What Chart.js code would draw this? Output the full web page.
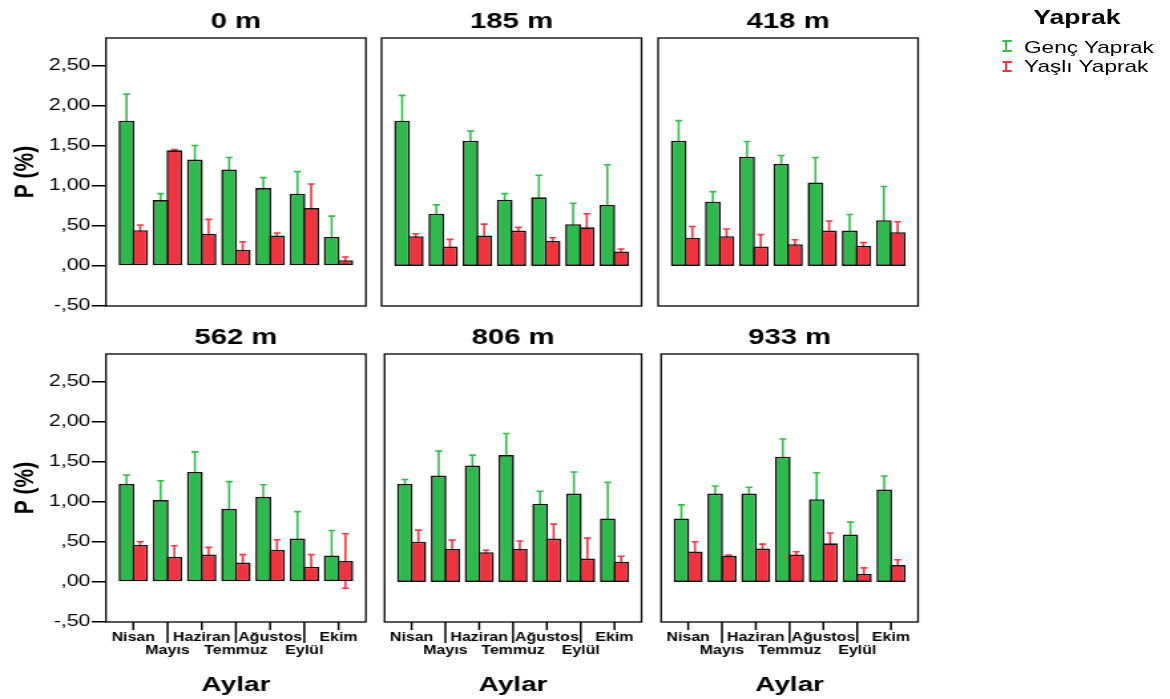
<!DOCTYPE html>
<html>
<head>
<meta charset="utf-8">
<script src="https://cdn.jsdelivr.net/npm/chart.js@4.4.1/dist/chart.umd.min.js"></script>
<style>
  body { margin: 0; background: #fff; }
  /* the reference is stretched horizontally, so the whole figure is laid out narrow and scaled */
  #wrap { position: absolute; left: 0; top: 0; width: 880px; height: 699px;
          transform: scaleX(1.329545); transform-origin: 0 0;
          font-family: 'Liberation Sans', Arial, sans-serif; color: #000; }
  #wrap canvas { position: absolute; }
  .lg-title { position: absolute; left: 760px; width: 100px; top: 4.7px; line-height: 24px;
              text-align: center; font-weight: bold; font-size: 20px; }
  .lg-text { position: absolute; left: 770.2px; line-height: 20px; font-size: 17px; white-space: nowrap; }
  .lg-icon { position: absolute; left: 753.5px; width: 7.5px; height: 11.7px; box-sizing: border-box;
             border-top: 2px solid; border-bottom: 2px solid; }
</style>
</head>
<body>
<div id="wrap">
  <div class="lg-title">Yaprak</div>
  <div class="lg-icon" style="top:40.2px;border-color:#35bd4c;background:linear-gradient(#35bd4c,#35bd4c) center/1.6px 100% no-repeat;"></div>
  <div class="lg-text" style="top:37.5px;">Genç Yaprak</div>
  <div class="lg-icon" style="top:60.8px;border-color:#ef3843;background:linear-gradient(#ef3843,#ef3843) center/1.6px 100% no-repeat;"></div>
  <div class="lg-text" style="top:57px;">Yaşlı Yaprak</div>
</div>
<script>
// --- Data ---
const months = ['Nisan', 'Mayıs', 'Haziran', 'Temmuz', 'Ağustos', 'Eylül', 'Ekim'];
const altitudes = ['0 m', '185 m', '418 m', '562 m', '806 m', '933 m'];

// Genç Yaprak means, one row per altitude
const gencMean = [
  [1.81, 0.82, 1.325, 1.20, 0.97, 0.90, 0.36],
  [1.81, 0.65, 1.56, 0.825, 0.855, 0.52, 0.76],
  [1.56, 0.80, 1.36, 1.27, 1.04, 0.44, 0.57],
  [1.22, 1.02, 1.37, 0.91, 1.06, 0.54, 0.33],
  [1.22, 1.325, 1.45, 1.58, 0.975, 1.10, 0.79],
  [0.79, 1.10, 1.10, 1.56, 1.03, 0.59, 1.15]
];
const gencErr = [
  [0.33, 0.08, 0.175, 0.15, 0.13, 0.275, 0.26],
  [0.315, 0.11, 0.12, 0.075, 0.275, 0.26, 0.50],
  [0.25, 0.125, 0.19, 0.105, 0.31, 0.20, 0.42],
  [0.11, 0.24, 0.25, 0.34, 0.15, 0.335, 0.31],
  [0.055, 0.305, 0.13, 0.27, 0.155, 0.27, 0.45],
  [0.17, 0.095, 0.08, 0.22, 0.33, 0.155, 0.17]
];
// Yaşlı Yaprak means
const yasliMean = [
  [0.445, 1.44, 0.40, 0.20, 0.38, 0.72, 0.07],
  [0.37, 0.24, 0.38, 0.44, 0.31, 0.48, 0.18],
  [0.35, 0.37, 0.24, 0.27, 0.44, 0.25, 0.42],
  [0.46, 0.31, 0.34, 0.24, 0.40, 0.19, 0.26],
  [0.50, 0.41, 0.37, 0.41, 0.54, 0.29, 0.25],
  [0.38, 0.325, 0.415, 0.34, 0.48, 0.10, 0.21]
];
const yasliErr = [
  [0.065, 0.01, 0.18, 0.10, 0.03, 0.30, 0.04],
  [0.03, 0.09, 0.14, 0.04, 0.04, 0.17, 0.03],
  [0.14, 0.09, 0.15, 0.055, 0.12, 0.04, 0.13],
  [0.04, 0.14, 0.09, 0.10, 0.125, 0.15, 0.34],
  [0.145, 0.11, 0.025, 0.10, 0.18, 0.255, 0.07],
  [0.12, 0.01, 0.055, 0.035, 0.13, 0.075, 0.065]
];

const yTickValues = [-0.5, 0, 0.5, 1, 1.5, 2, 2.5];
const yTickLabels = ['-,50', ',00', ',50', '1,00', '1,50', '2,00', '2,50'];

// --- Layout (logical px, before the horizontal stretch) ---
const boxLefts = [79.7, 287.1, 494.7];
const boxW = 195.5;
const yAxisW = 79.7;

const GREEN = '#2fb84b', RED = '#ef333f';
const GREEN_ERR = '#35bd4c', RED_ERR = '#ef3843';

Chart.defaults.font.family = "'Liberation Sans', Arial, sans-serif";
Chart.defaults.color = '#000';

// error bars drawn behind the bars, so only the part above the bar shows
const errorBarPlugin = {
  id: 'errorBars',
  beforeDatasetsDraw(chart) {
    const ctx = chart.ctx;
    const yScale = chart.scales.y;
    chart.data.datasets.forEach((ds, di) => {
      const meta = chart.getDatasetMeta(di);
      ctx.save();
      ctx.strokeStyle = ds.errColor;
      ctx.lineWidth = 1.6;
      meta.data.forEach((bar, i) => {
        const v = ds.data[i].y, e = ds.errors[i];
        const top = yScale.getPixelForValue(v + e);
        const bot = yScale.getPixelForValue(v - e);
        ctx.beginPath();
        ctx.moveTo(bar.x, top); ctx.lineTo(bar.x, bot);
        ctx.moveTo(bar.x - 2.6, top); ctx.lineTo(bar.x + 2.6, top);
        ctx.moveTo(bar.x - 2.6, bot); ctx.lineTo(bar.x + 2.6, bot);
        ctx.stroke();
      });
      ctx.restore();
    });
  }
};

// frame round the plot and the alternating month tick marks
const framePlugin = {
  id: 'frame',
  afterDraw(chart) {
    const {ctx, chartArea} = chart;
    ctx.save();
    ctx.strokeStyle = '#000';
    ctx.lineWidth = 1.3;
    ctx.strokeRect(chartArea.left, chartArea.top, chartArea.right - chartArea.left, chartArea.bottom - chartArea.top);
    if (chart.options.scales.x.display) {
      const xScale = chart.scales.x;
      ctx.lineWidth = 1.5;
      months.forEach((m, i) => {
        const px = xScale.getPixelForValue(i);
        ctx.beginPath();
        ctx.moveTo(px, chartArea.bottom);
        ctx.lineTo(px, chartArea.bottom + (i % 2 ? 21 : 8));
        ctx.stroke();
      });
    }
    ctx.restore();
  }
};

const wrap = document.getElementById('wrap');

altitudes.forEach((alt, p) => {
  const row = Math.floor(p / 3), col = p % 3;
  const showX = row === 1, showY = col === 0;
  const axisW = showY ? yAxisW : 0;
  const padL = showY ? 0 : 4;
  const canvasLeft = boxLefts[col] - axisW - padL;
  const canvasW = Math.ceil(axisW + padL + boxW + 4);
  const canvasH = row === 0 ? 321 : 383;

  const canvas = document.createElement('canvas');
  canvas.width = canvasW;
  canvas.height = canvasH;
  canvas.style.left = canvasLeft + 'px';
  canvas.style.top = (row === 0 ? 0 : 316) + 'px';
  wrap.appendChild(canvas);

  new Chart(canvas, {
    type: 'bar',
    data: {
      datasets: [
        {
          label: 'Genç Yaprak',
          data: gencMean[p].map((v, i) => ({x: i, y: v})),
          errors: gencErr[p],
          errColor: GREEN_ERR,
          backgroundColor: GREEN
        },
        {
          label: 'Yaşlı Yaprak',
          data: yasliMean[p].map((v, i) => ({x: i, y: v})),
          errors: yasliErr[p],
          errColor: RED_ERR,
          backgroundColor: RED
        }
      ]
    },
    options: {
      responsive: false,
      animation: false,
      devicePixelRatio: 1,
      layout: {
        padding: {left: padL, right: canvasW - (axisW + padL + boxW), top: 0, bottom: showX ? 0 : 15}
      },
      datasets: {
        bar: {
          borderColor: '#111',
          borderWidth: 1.6,
          borderSkipped: false,
          categoryPercentage: 0.8,
          barPercentage: 1.156
        }
      },
      plugins: {
        legend: {display: false},
        tooltip: {enabled: false},
        title: {
          display: true,
          text: alt,
          fullSize: false,
          color: '#000',
          font: {size: 22, weight: 'bold', lineHeight: 1.2},
          padding: {top: 8.8, bottom: 2.8}
        }
      },
      scales: {
        x: {
          type: 'linear',
          min: -0.8,
          max: 6.8,
          offset: false,
          display: showX,
          afterBuildTicks: s => { s.ticks = months.map((m, i) => ({value: i})); },
          afterFit: s => { s.height = showX ? 77 : 0; },
          grid: {display: false, drawTicks: false},
          border: {display: false},
          ticks: {
            autoSkip: false,
            maxRotation: 0,
            padding: 9.6,
            font: {size: 12, weight: 'bold', lineHeight: 1.07},
            callback: (v, i) => (i % 2 ? ['', months[i]] : months[i])
          },
          title: {
            display: true,
            text: 'Aylar',
            font: {size: 21, weight: 'bold', lineHeight: 1.2},
            padding: {top: 0, bottom: 1.4}
          }
        },
        y: {
          min: -0.5,
          max: 2.84,
          display: showY,
          afterBuildTicks: s => { s.ticks = yTickValues.map(v => ({value: v})); },
          afterFit: s => { s.width = showY ? yAxisW : 0; },
          grid: {drawOnChartArea: false, drawTicks: true, tickLength: 10.7, color: '#000', lineWidth: 1.5},
          border: {display: false},
          ticks: {
            padding: 1,
            font: {size: 16},
            callback: (v, i) => yTickLabels[i]
          },
          title: {
            display: true,
            text: 'P (%)',
            font: {size: 21, weight: 'bold', lineHeight: 1.2},
            padding: {top: 6.2, bottom: 0}
          }
        }
      }
    },
    plugins: [errorBarPlugin, framePlugin]
  });
});
</script>
</body>
</html>
